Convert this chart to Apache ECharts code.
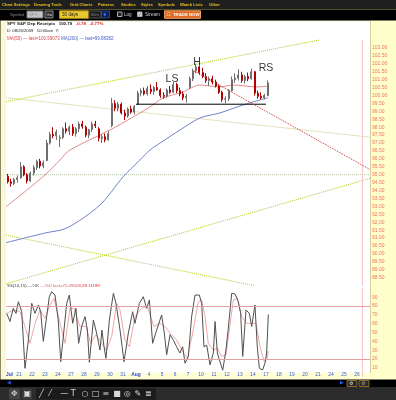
<!DOCTYPE html>
<html><head><meta charset="utf-8">
<script src="https://cdn.jsdelivr.net/npm/echarts@6/dist/echarts.min.js"></script>
<style>html,body{margin:0;padding:0;background:#fff;}#c{width:396px;height:400px;}</style>
</head><body><div id="c"></div>
<script>
// ---------- DATA ----------
const dayLabels = ['Jul','21','22','23','24','27','28','29','30','31','Aug','4','5','6','7','10','11','12','13','14','17','18','19','20','21','24','25','26'];
const monthLabels = ['Jul','Aug'];
const slotsPerDay = 4;
// [open, high, low, close] per slot (about 1.6 h each)
const candles = [
 [94.9,95.05,94.45,94.55],[94.55,94.75,94.25,94.45],[94.45,94.8,94.35,94.7],[94.7,94.95,94.5,94.8],
 [94.8,95.8,94.75,95.5],[95.5,95.6,94.9,95.0],[95.0,95.1,94.45,94.6],[94.6,95.2,94.55,95.1],
 [95.1,95.6,94.95,95.45],[95.45,95.95,95.3,95.85],[95.85,96.0,95.4,95.55],[95.55,95.9,95.4,95.75],
 [95.9,97.2,95.85,97.0],[97.0,97.7,96.9,97.55],[97.55,98.0,97.3,97.45],[97.45,97.85,97.2,97.7],
 [97.3,97.5,96.75,97.35],[97.35,98.0,97.25,97.9],[97.9,98.3,97.6,97.75],[97.75,98.1,97.5,98.0],
 [98.0,98.2,97.45,97.6],[97.6,98.0,97.4,97.9],[97.9,98.35,97.7,98.2],[98.2,98.4,97.9,98.05],
 [98.0,98.1,97.35,97.5],[97.5,97.9,97.3,97.85],[97.85,98.35,97.7,98.2],[98.2,98.4,97.95,98.1],
 [97.9,98.0,97.1,97.3],[97.3,97.55,97.0,97.4],[97.4,97.6,97.05,97.2],[97.2,97.75,97.15,97.6],
 [98.1,99.85,98.0,99.5],[99.5,99.7,99.0,99.2],[99.2,99.6,99.0,99.45],[99.45,99.55,98.8,98.9],
 [98.9,99.1,98.45,98.7],[98.7,99.25,98.6,99.15],[99.15,99.35,98.85,98.95],[98.95,99.4,98.8,99.3],
 [99.45,100.3,99.4,100.15],[100.15,100.45,99.95,100.3],[100.3,100.5,100.0,100.1],[100.1,100.6,100.0,100.45],
 [100.4,100.7,100.1,100.25],[100.25,100.6,100.05,100.5],[100.5,100.85,100.3,100.35],[100.35,100.45,99.85,100.0],
 [100.0,100.2,99.8,99.95],[99.95,100.45,99.85,100.35],[100.35,100.6,100.1,100.2],[100.2,100.85,100.15,100.7],
 [100.7,100.8,100.15,100.3],[100.3,100.5,99.95,100.1],[100.1,100.25,99.7,99.85],[99.85,100.1,99.55,99.95],
 [100.5,101.2,100.4,101.05],[101.05,101.7,100.9,101.55],[101.55,102.0,101.4,101.8],[101.8,101.9,101.3,101.45],
 [101.45,101.75,101.1,101.2],[101.2,101.4,100.8,100.95],[100.95,101.2,100.6,101.05],[101.05,101.25,100.7,100.85],
 [100.85,101.0,100.5,100.6],[100.6,100.7,100.1,100.2],[100.2,100.3,99.6,99.75],[99.75,99.95,99.5,99.8],
 [99.8,100.4,99.65,100.3],[100.3,101.2,100.25,101.0],[101.0,101.4,100.8,101.1],[101.1,101.65,100.95,101.3],
 [101.3,101.5,100.8,100.95],[100.95,101.3,100.75,101.2],[101.2,101.45,100.9,101.05],[101.05,101.7,101.0,101.5],
 [101.5,101.55,100.0,100.15],[100.15,100.3,99.8,99.95],[99.95,100.2,99.75,99.85],[99.85,100.1,99.75,100.0],
 [100.0,100.95,99.95,100.79]
];
// [trading day, value]
const ma50 = [[0,92.98],[3.0,94.98],[4.15,95.93],[4.92,96.56],[8.0,97.82],[9.77,98.64],[11.08,99.28],[12.08,99.84],[13.6,100.22],[14.9,100.66],[16.46,100.54],[17.46,100.66],[19.3,100.54],[20.15,100.59]];
const ma200 = [[0,90.71],[3.0,91.32],[4.69,91.64],[7.23,93.09],[9.0,94.86],[10.3,95.93],[11.08,96.56],[11.85,97.0],[13.38,97.82],[14.92,98.58],[16.46,98.9],[18.23,99.4],[20.15,99.86]];
const pctK = [[0.05,71.7],[0.31,62.5],[0.56,77.5],[0.77,71.7],[0.95,85.0],[1.21,73.6],[1.46,9.5],[1.72,41.5],[1.98,83.1],[2.23,71.7],[2.49,81.2],[2.67,73.6],[2.87,40.0],[3.13,68.1],[3.33,90.6],[3.51,96.2],[3.77,92.5],[4.02,64.2],[4.21,17.0],[4.46,52.8],[4.67,83.1],[4.87,92.5],[5.13,60.4],[5.38,77.5],[5.59,37.8],[5.82,56.9],[6.08,68.1],[6.26,52.8],[6.41,16.3],[6.72,64.2],[6.97,49.4],[7.23,30.2],[7.38,52.8],[7.54,33.9],[7.69,20.8],[7.95,64.2],[8.26,94.4],[8.46,83.1],[8.77,52.8],[9.08,17.0],[9.41,49.4],[9.74,73.6],[9.92,60.4],[10.26,83.1],[10.56,90.6],[10.82,77.5],[11.03,86.9],[11.28,37.8],[11.59,52.8],[11.97,69.9],[12.18,49.4],[12.36,24.9],[12.62,47.5],[12.87,41.5],[13.13,33.9],[13.38,26.8],[13.59,33.9],[13.77,15.3],[14.03,23.0],[14.28,68.1],[14.54,92.5],[14.87,92.5],[15.05,83.1],[15.23,33.9],[15.44,35.8],[15.69,13.4],[15.95,26.8],[16.08,62.5],[16.26,26.8],[16.41,19.3],[16.67,7.3],[16.92,30.2],[17.1,55.0],[17.36,94.4],[17.62,93.7],[17.87,85.0],[18.05,71.7],[18.21,23.0],[18.46,75.6],[18.72,71.7],[18.9,56.9],[19.15,81.2],[19.33,33.9],[19.49,9.5],[19.74,7.6],[19.92,15.3],[20.05,26.8],[20.18,70.5]];
const pctD = [[0.05,71.7],[0.56,75.6],[1.08,73.6],[1.46,56.9],[1.85,37.8],[2.23,60.4],[2.62,75.6],[3.0,66.2],[3.38,81.2],[3.69,88.7],[4.1,64.2],[4.54,37.8],[4.92,77.5],[5.23,77.5],[5.69,56.9],[6.15,56.9],[6.51,37.8],[6.92,47.5],[7.36,37.8],[7.74,30.2],[8.13,45.6],[8.51,83.1],[8.77,75.6],[9.15,41.5],[9.49,33.9],[9.92,68.1],[10.44,77.5],[10.87,79.4],[11.38,56.9],[11.85,60.4],[12.23,56.9],[12.62,49.4],[13.13,41.5],[13.59,28.7],[13.95,21.1],[14.36,49.4],[14.79,85.0],[15.05,86.9],[15.31,68.1],[15.56,37.8],[15.95,30.2],[16.26,32.1],[16.59,23.0],[16.92,24.9],[17.18,52.8],[17.49,86.9],[17.79,88.7],[18.13,68.1],[18.51,60.4],[18.9,60.4],[19.23,60.4],[19.54,33.9],[19.85,17.4],[20.05,19.0],[20.18,29.1]];
const upperChannel = [[0,99.61],[24.08,103.5]];
const lowerChannel = [[0,88.11],[28,94.77]];
const descLine = [[0,91.19],[19.1,88.0]];
const beigeLine = [[0,99.86],[28,97.37]];
const redLine = [[14.46,101.55],[28,95.33]];
const level95 = [[0,95.0],[28,95.0]];
const neckline = [[10.0,99.45],[20.0,99.45]];
const patternNames = ['LS','H','RS'];
const patternPoints = [[12.77,101.04],[14.69,102.12],[20.0,101.74]];
const priceMin = 88, priceMax = 104.5, priceStep = 0.5, priceTopLabel = 103;
const oscLevels = [80, 20];
const lastPrice = 100.79;
const nowDay = 27.4;
const menuItems = ['Chart Settings','Drawing Tools','Grid Charts','Patterns','Studies','Styles','Symbols','Watch Lists','Other'];

// ---------- BUILD ----------
const categories = [];
dayLabels.forEach((l, i) => { for (let k = 0; k < slotsPerDay; k++) categories.push(i + '_' + k); });
const candleData = candles.map(([o, h, l, c]) => [o, c, l, h]);
const F = 'Liberation Sans';
const nDays = dayLabels.length;

function T(text, x, y, fill, size, weight, extra, family) {
  return Object.assign({ type: 'text', z: 30, silent: true,
    style: Object.assign({ text, x, y, fill, fontSize: size, fontFamily: family || F, fontWeight: weight || 'normal', verticalAlign: 'middle' }, extra || {}) });
}
function R(x, y, w, h, fill, stroke, z) {
  return { type: 'rect', z: z == null ? 25 : z, silent: true, shape: { x, y, width: w, height: h },
    style: { fill, stroke: stroke || null, lineWidth: stroke ? 1 : 0 } };
}
const menuX = [2, 34, 70, 98, 121, 141, 158, 180, 209];
const graphics = [
  // backgrounds
  R(0, 20, 396, 367, '#fbf8d2', null, -20),
  R(6, 21, 364, 352, '#ffffff', null, -19),
  R(0, 20, 1, 360, '#8a8a70', null, -18),
  R(370, 21, 26, 358, '#ffffcc', null, -18),
  R(370, 21, 0.8, 352, '#c8c490', null, -17),
  R(6, 20.5, 364, 0.8, '#d8d4a0', null, -17),
  // top bars
  R(0, 0, 396, 9.5, '#1f1f1f', null, 25),
  R(0, 9.5, 396, 11, '#000000', null, 25),
  R(0, 9.3, 396, 0.6, '#5a5220', null, 26),
  // x label band and bottom bars
  R(6, 372.5, 364, 7, '#ffffd6', null, 3),
  R(0, 379.5, 396, 7.5, '#000000', null, 25),
  R(0, 387, 396, 13, '#2b2b2b', null, 25),
  R(36, 388.5, 120, 11, '#1b1b1b', null, 26),
  R(9, 388.5, 11, 11, '#444444', null, 26),
  R(22, 388.5, 10, 11, '#3a3a3a', null, 26),
  R(347, 380.5, 10, 6, '#2a2a2a', '#8a6a20', 26),
  R(359, 380.5, 10, 6, '#2a2a2a', '#8a6a20', 26),
  T('\u25C0', 7, 383.2, '#3050ff', 5, null, null, 'DejaVu Sans'),
  T('\u25B6', 340, 383.2, '#3050ff', 5, null, null, 'DejaVu Sans'),
  T('\u2699', 349, 383.5, '#dddddd', 5, null, null, 'DejaVu Sans'),
  T('\u2699', 361, 383.5, '#aaaaaa', 5, null, null, 'DejaVu Sans'),
  // row 2 controls
  T('Symbol', 10, 14.8, '#8c8c8c', 4.3),
  R(27, 11, 16, 7, '#c4c4c4', '#777777', 26),
  T('SPY', 29, 14.6, '#8a8a8a', 4.3),
  R(45, 11, 8, 7, '#2c2c2c', '#888888', 26),
  T('Go', 46.5, 14.6, '#dddddd', 4.2),
  R(59.5, 10.8, 29, 7.5, '#e8c830', '#b89010', 26),
  T('30 days', 62, 14.6, '#222222', 4.6),
  R(89, 11, 12, 7, '#1b1b1b', '#555555', 26),
  T('30m', 90.5, 14.6, '#8a8a8a', 4.3),
  R(101.5, 11, 8, 7, '#0c1e52', '#334488', 26),
  T('\u25BC', 103.3, 14.8, '#4a7cff', 4, null, null, 'DejaVu Sans'),
  R(117.5, 12, 4.5, 4.5, '#222222', '#aaaaaa', 26),
  T('Log', 124, 14.6, '#cfcfcf', 4.6),
  R(137.5, 12, 4.5, 4.5, '#dddddd', '#aaaaaa', 26),
  T('\u2713', 138, 14.4, '#000000', 4.5, null, null, 'DejaVu Sans'),
  T('Stream', 145, 14.6, '#cfcfcf', 4.6),
  R(164.5, 10.8, 36, 7.5, '#e06a24', '#f0a060', 26),
  T('\u2610', 166.5, 14.6, '#ffffff', 4.5, null, null, 'DejaVu Sans'),
  T('TRADE NOW', 173, 14.6, '#ffffff', 4.3, 'bold'),
  // legend texts
  T('{k|SPY S&P Dep Receipts}   {k|100.79}   {r|-0.78}   {r|-0.77%}', 7, 23.8, '#000', 4.4, 'bold', {
    rich: { k: { fill: '#111111', fontSize: 4.4, fontWeight: 'bold', fontFamily: F }, r: { fill: '#e02020', fontSize: 4.4, fontWeight: 'bold', fontFamily: F } } }),
  T('D: 08/26/2009   10:30am  Y:', 7, 31, '#222222', 4.2),
  T('{m|MA(50) \u2014 last=100.59073} {b|MA(200) \u2014 last=99.88382}', 7, 38.6, '#000', 4.5, 'normal', {
    rich: { m: { fill: '#d84848', fontSize: 4.5, fontFamily: F }, b: { fill: '#4a62c8', fontSize: 4.5, fontFamily: F } } }),
  T('{g|SS(10,15) \u2014%K} {r|\u2014%D last=70.49608;}{d|29.11199}', 7, 286, '#000', 4.4, 'normal', {
    rich: { g: { fill: '#444444', fontSize: 4.4, fontFamily: F }, r: { fill: '#d86060', fontSize: 4.4, fontFamily: F }, d: { fill: '#e02020', fontSize: 4.4, fontFamily: F } } })
];
menuItems.forEach((m, i) => graphics.push(T(m, menuX[i], 4.8, '#e8c020', 4.1, 'bold')));
const iconGlyphs = ['\u2571', '\u2044', '\u2014', 'T', '\u25CB', '\u25A1', '\u2261', '\u25A0', '\u25CE', '\u270E', '\u2263'];
graphics.push(T('\u2725', 11, 393.5, '#cfcfcf', 8, null, null, 'DejaVu Sans'));
graphics.push(T('\u25A3', 23.5, 393.5, '#e0e0e0', 8, null, null, 'DejaVu Sans'));
iconGlyphs.forEach((g, i) => graphics.push(T(g, 39 + i * 10.6, 393.8, '#d8d8d8', 8, null, null, 'DejaVu Sans')));

function trend(data, color, type, width, extra) {
  return Object.assign({ type: 'line', xAxisIndex: 1, yAxisIndex: 0, data, symbol: 'none', silent: true, z: 3,
    lineStyle: { color, type, width: width || 1 } }, extra || {});
}

const option = {
  animation: false,
  backgroundColor: '#ffffff',
  textStyle: { fontFamily: F },
  graphic: { elements: graphics },
  grid: [
    { left: 6, right: 26, top: 24.2, height: 261.4 },
    { left: 6, right: 26, top: 288.4, height: 88.3 }
  ],
  xAxis: [
    { type: 'category', gridIndex: 0, data: categories, boundaryGap: true, show: false },
    { type: 'value', gridIndex: 0, min: 0, max: nDays, show: false },
    { type: 'value', gridIndex: 1, min: 0, max: nDays, interval: 1, z: 10,
      axisLine: { show: false }, axisTick: { show: false }, splitLine: { show: false },
      axisLabel: { margin: -4.5, fontSize: 4.8, color: '#3558dd', fontFamily: F, alignMinLabel: 'left',
        formatter: v => { const l = dayLabels[v]; if (l == null) return ''; return monthLabels.includes(l) ? '{b|' + l + '}' : l; },
        rich: { b: { fontWeight: 'bold', fontSize: 4.8, color: '#2244dd', fontFamily: F } } } }
  ],
  yAxis: [
    { type: 'value', gridIndex: 0, position: 'right', min: priceMin, max: priceMax, interval: priceStep,
      axisLine: { show: false }, axisTick: { show: false }, splitLine: { show: false },
      axisLabel: { margin: 2, fontSize: 5, color: '#f07070', fontFamily: F,
        formatter: v => (v > priceTopLabel + 0.001 || v < priceMin + 0.25) ? '' : v.toFixed(2) } },
    { type: 'value', gridIndex: 1, position: 'right', min: 0, max: 100, interval: 10,
      axisLine: { show: false }, axisTick: { show: false }, splitLine: { show: false },
      axisLabel: { margin: 2, fontSize: 5, color: '#f07070', fontFamily: F,
        formatter: v => (v <= 0 || v >= 100) ? '' : String(v) } }
  ],
  series: [
    trend(beigeLine, '#e6e2bc', 'solid', 1),
    trend(level95, '#b4c4a0', 'dotted', 1, {
      markLine: { symbol: 'none', silent: true, label: { show: false },
        lineStyle: { color: '#f6c4c4', type: 'solid', width: 1 },
        data: [[{ coord: [nowDay, priceTopLabel + 0.5] }, { coord: [nowDay, priceMin] }]] } }),
    trend(upperChannel, '#a8d018', 'dotted', 1),
    trend(lowerChannel, '#a8d018', 'dotted', 1),
    trend(descLine, '#a8d018', 'dotted', 1),
    trend(ma200, '#6f82cc', 'solid', 1, { smooth: 0.3 }),
    trend(ma50, '#e08a8a', 'solid', 1, { smooth: 0.3 }),
    {
      type: 'candlestick', xAxisIndex: 0, yAxisIndex: 0, data: candleData, barMaxWidth: 2, z: 4,
      itemStyle: { color: '#9c9c9c', borderColor: '#6e6e6e', color0: '#b00000', borderColor0: '#b00000', borderWidth: 1 },
      markLine: { symbol: 'none', silent: true, data: [{ yAxis: lastPrice }],
        lineStyle: { opacity: 0 },
        label: { show: true, position: 'end', distance: 0, formatter: lastPrice.toFixed(2), color: '#ffffff',
          backgroundColor: '#000000', fontSize: 5, fontWeight: 'bold', fontFamily: F, padding: [1, 7, 1, 2] } }
    },
    trend(neckline, '#000000', 'solid', 1, { z: 5 }),
    trend(redLine, '#c83030', 'dotted', 1, { z: 5 }),
    {
      type: 'scatter', xAxisIndex: 1, yAxisIndex: 0, silent: true, z: 6, symbolSize: 1,
      itemStyle: { color: 'rgba(0,0,0,0)' },
      data: patternNames.map((n, i) => ({ name: n, value: patternPoints[i] })),
      label: { show: true, position: 'inside', formatter: '{b}', color: '#000000', fontSize: 10.5, fontFamily: 'Liberation Sans' }
    },
    {
      type: 'line', xAxisIndex: 2, yAxisIndex: 1, data: pctD, symbol: 'none', silent: true,
      lineStyle: { color: '#f0a8a8', width: 1 },
      markLine: { symbol: 'none', silent: true, label: { show: false },
        lineStyle: { color: '#f6c4c4', type: 'solid', width: 1 }, data: [{ xAxis: nowDay }] }
    },
    {
      type: 'line', xAxisIndex: 2, yAxisIndex: 1, data: pctK, symbol: 'none', silent: true,
      lineStyle: { color: '#505050', width: 1 },
      markLine: { symbol: 'none', silent: true, label: { show: false },
        lineStyle: { color: '#e4a0a0', type: 'solid', width: 1 }, data: oscLevels.map(v => ({ yAxis: v })) }
    }
  ]
};
const chart = echarts.init(document.getElementById('c'), null, { renderer: 'canvas', width: 396, height: 400 });
chart.setOption(option);
</script></body></html>
